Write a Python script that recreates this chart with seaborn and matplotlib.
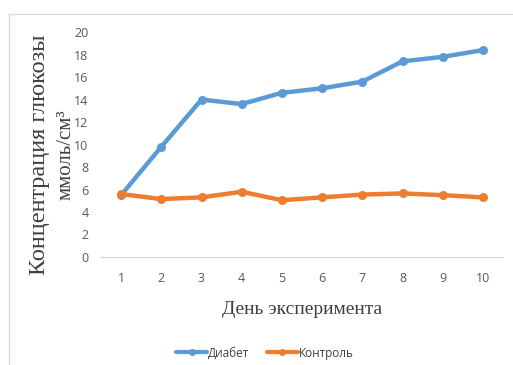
import numpy as np
import pandas as pd
import matplotlib
matplotlib.use("Agg")
import matplotlib.pyplot as plt
import seaborn as sns
from matplotlib.lines import Line2D

# данные
days = [1, 2, 3, 4, 5, 6, 7, 8, 9, 10]
diabet = [5.5, 9.8, 14.0, 13.6, 14.6, 15.0, 15.6, 17.4, 17.8, 18.4]
control = [5.6, 5.15, 5.3, 5.8, 5.05, 5.3, 5.55, 5.65, 5.5, 5.3]
groups = ["Диабет", "Контроль"]

df = pd.DataFrame({
    "day": days * 2,
    "value": diabet + control,
    "group": [groups[0]] * len(days) + [groups[1]] * len(days),
})

sns.set_style("white")
plt.rcParams["font.family"] = ["Open Sans", "DejaVu Sans"]

fig = plt.figure(figsize=(5.13, 3.65), dpi=100)
ax = fig.add_axes([101 / 513, 0.296, 402 / 513, 0.616])

palette = {"Диабет": "#5B9BD5", "Контроль": "#ED7D31"}
sns.lineplot(data=df, x="day", y="value", hue="group", palette=palette,
             marker="o", markersize=6.5, markeredgewidth=0, linewidth=3.2,
             ax=ax, legend=False)

ax.set_xlim(0.5, 10.5)
ax.set_ylim(0, 20)
ax.set_xticks(days)
ax.set_yticks(range(0, 21, 2))
ax.tick_params(axis="both", labelsize=9, colors="#595959", length=0)
ax.tick_params(axis="x", pad=11)
ax.tick_params(axis="y", pad=9)
for s in ["top", "right", "left"]:
    ax.spines[s].set_visible(False)
ax.spines["bottom"].set_color("#d9d9d9")
ax.spines["bottom"].set_linewidth(1)

ax.set_xlabel("")
ax.set_ylabel("")
serif = ["Liberation Serif", "DejaVu Serif"]
fig.text(302 / 513, 1 - 310 / 365, "День эксперимента", family=serif,
         fontsize=14, color="#404040", ha="center", va="center")
fig.text(40 / 513, 1 - 155 / 365, "Концентрация глюкозы", family=serif,
         fontsize=17.5, color="#404040", rotation=90, ha="center", va="center")
fig.text(66 / 513, 1 - 155 / 365, "ммоль/см³", family=serif,
         fontsize=15, color="#404040", rotation=90, ha="center", va="center")

# легенда внизу
handles = [Line2D([], [], color=palette[g], lw=3, marker="o", markersize=5,
                  markeredgewidth=0) for g in groups]
fig.legend(handles, groups, loc="center", bbox_to_anchor=(265 / 513, 1 - 353 / 365),
           ncol=2, frameon=False, fontsize=8.5, handlelength=2.6,
           columnspacing=1.5, handletextpad=0.1, labelcolor="#404040")

# рамка
fig.add_artist(Line2D([9 / 513, 1], [1 - 14 / 365] * 2, color="#d9d9d9", lw=1))
fig.add_artist(Line2D([9 / 513] * 2, [0, 1 - 14 / 365], color="#d9d9d9", lw=1))

fig.savefig("out.png", dpi=100)
